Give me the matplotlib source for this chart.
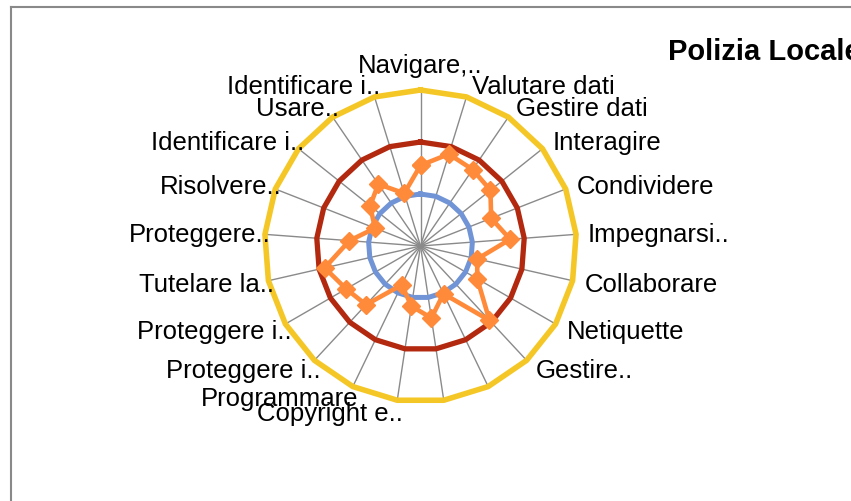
import numpy as np
import matplotlib.pyplot as plt
from matplotlib.lines import Line2D

plt.rcParams['font.family'] = ['Liberation Sans', 'DejaVu Sans']

# competence labels as shown on the chart (two are hidden by the layout)
labels = ['Navigare,..', 'Valutare dati', 'Gestire dati', 'Interagire',
          'Condividere', 'Impegnarsi..', 'Collaborare', 'Netiquette',
          'Gestire..', '', '', 'Copyright e..', 'Programmare',
          'Proteggere i..', 'Proteggere i..', 'Tutelare la..',
          'Proteggere..', 'Risolvere..', 'Identificare i..', 'Usare..',
          'Identificare i..']

# reference levels
base = [1, 1, 1, 1, 1, 1, 1, 1, 1, 1, 1, 1, 1, 1, 1, 1, 1, 1, 1, 1, 1]
intermedio = [2, 2, 2, 2, 2, 2, 2, 2, 2, 2, 2, 2, 2, 2, 2, 2, 2, 2, 2, 2, 2]
avanzato = [3, 3, 3, 3, 3, 3, 3, 3, 3, 3, 3, 3, 3, 3, 3, 3, 3, 3, 3, 3, 3]

# Polizia Locale scores
polizia = [1.55, 1.85, 1.78, 1.72, 1.46, 1.73, 1.12, 1.26, 1.95, 1.02, 1.40,
           1.17, 0.83, 1.54, 1.65, 1.89, 1.37, 0.94, 1.24, 1.44, 1.06]

title = 'Polizia Locale'

n = len(labels)
theta = np.arange(n) * 2 * np.pi / n
theta_c = np.append(theta, theta[0])


def closed(vals):
    return np.append(vals, vals[0])


W, H = 851, 501
fig = plt.figure(figsize=(W / 100, H / 100), dpi=100)

# polar area: centre at (420.5, 246) px, outer radius 156 px
cx, cy, R = 420.5, 246, 156
ax = fig.add_axes([(cx - R) / W, 1 - (cy + R) / H, 2 * R / W, 2 * R / H],
                  projection='polar')
ax.set_theta_zero_location('N')
ax.set_theta_direction(-1)
ax.set_ylim(0, 3)
ax.axis('off')

# spokes
for t in theta:
    ax.plot([t, t], [0, 3], color='#8a8a8a', lw=1.0, zorder=1, clip_on=False)

ax.plot(theta_c, closed(base), color='#7094d6', lw=3.6, zorder=2, clip_on=False)
ax.plot(theta_c, closed(intermedio), color='#b2290f', lw=3.8, zorder=2, clip_on=False)
ax.plot(theta_c, closed(avanzato), color='#f5c726', lw=4.0, zorder=2, clip_on=False)
ax.plot(theta_c, closed(polizia), color='#ff8a3a', lw=3.3, marker='D',
        markersize=9.5, markeredgecolor='#ff8a3a', zorder=3, clip_on=False)

# category labels around the outer ring
px = 72 / 100
for t, lab in zip(theta, labels):
    if not lab:
        continue
    s, c = np.sin(t), np.cos(t)
    dy = -(-12 * c + 2)
    if abs(s) < 1e-6:
        ax.annotate(lab, (t, 3), xytext=(0, 12 * px), textcoords='offset points',
                    ha='center', va='bottom', fontsize=18.5)
    elif s > 0:
        ax.annotate(lab, (t, 3), xytext=((3 + 9 * s) * px, dy * px),
                    textcoords='offset points', ha='left', va='center',
                    fontsize=18.5, annotation_clip=False)
    else:
        ax.annotate(lab, (t, 3), xytext=(6 * px, dy * px),
                    textcoords='offset points', ha='right', va='center',
                    fontsize=18.5, annotation_clip=False)

fig.text(668 / W, 1 - 52 / H, title, fontsize=21, fontweight='bold',
         ha='left', va='center')

# chart area border
fig.add_artist(Line2D([11 / W, 1], [1 - 6.5 / H, 1 - 6.5 / H],
                      transform=fig.transFigure, color='#898989', lw=1.5))
fig.add_artist(Line2D([11 / W, 11 / W], [0, 1 - 6.5 / H],
                      transform=fig.transFigure, color='#898989', lw=1.5))

fig.savefig('out.png', dpi=100)
